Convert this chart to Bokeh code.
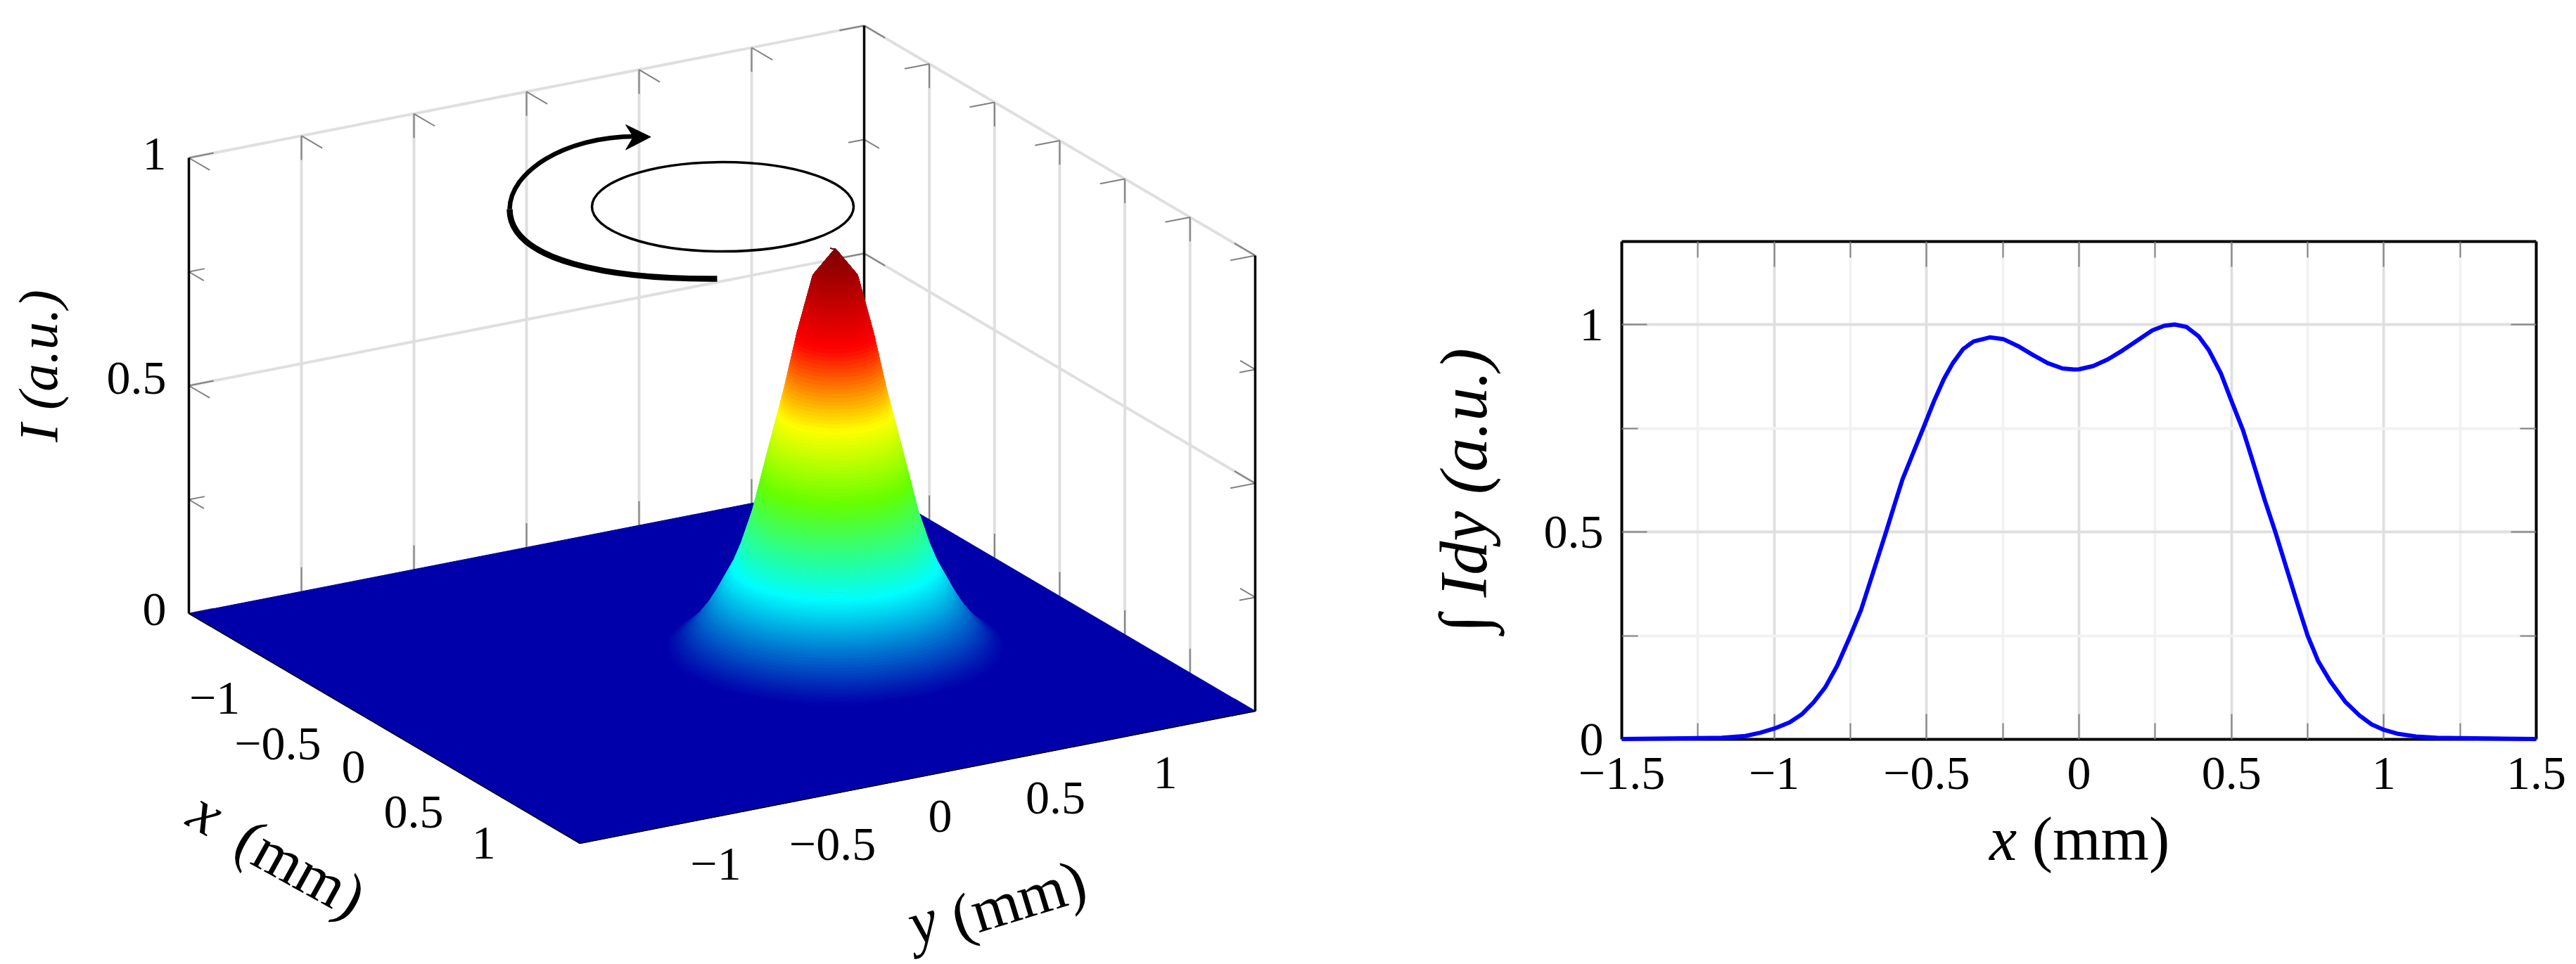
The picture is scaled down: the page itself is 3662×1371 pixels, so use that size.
import numpy as np
from bokeh.plotting import figure
from bokeh.layouts import row
from bokeh.embed import file_html
from bokeh.resources import INLINE
from bokeh.models import Range1d, LinearAxis, FixedTicker
from bokeh.core.properties import value

# ---------- data ----------
profile_x = [-1.5,-1.25,-1.172,-1.095,-1.046,-1.0,-0.949,-0.91,-0.871,-0.832,-0.793,-0.75,-0.715,-0.677,-0.633,-0.604,-0.579,-0.541,-0.511,-0.477,-0.443,-0.414,-0.38,-0.346,-0.293,-0.249,-0.2,-0.152,-0.103,-0.054,-0.016,0.0,0.047,0.095,0.144,0.192,0.241,0.28,0.314,0.353,0.392,0.426,0.465,0.5,0.538,0.571,0.61,0.644,0.678,0.717,0.75,0.785,0.824,0.873,0.921,0.96,1.0,1.048,1.106,1.174,1.25,1.35,1.5]
profile_I = [0.001,0.003,0.004,0.008,0.016,0.026,0.041,0.06,0.089,0.126,0.178,0.25,0.312,0.399,0.5,0.569,0.627,0.696,0.75,0.813,0.869,0.907,0.941,0.959,0.969,0.965,0.948,0.927,0.907,0.894,0.8915,0.892,0.9,0.916,0.938,0.962,0.986,0.997,1.0,0.994,0.972,0.938,0.883,0.816,0.745,0.668,0.575,0.5,0.419,0.326,0.25,0.188,0.14,0.091,0.057,0.036,0.023,0.013,0.007,0.004,0.003,0.002,0.001]
beam_r = [0.0,0.087,0.1475,0.197,0.257,0.32,0.363,0.395,0.465,0.5,0.55,0.6,0.65]
beam_z = [0.877,0.816,0.69,0.567,0.436,0.296,0.224,0.181,0.11,0.079,0.044,0.018,0.0]
beam_center = (0.076, 0.459)
apex_shift = (-0.0094, -0.0164)
xy_ticks = [-1.0,-0.5,0.0,0.5,1.0]
xy_labels = ["−1","−0.5","0","0.5","1"]
z_major = [0.0,0.5,1.0]
z_minor = [0.25,0.75]
z_labels = ["0","0.5","1"]
jet_pos = [0.0,0.206,0.42,0.59,0.78,1.0]
jet_rgb = [(0,0,170),(0,255,255),(100,255,0),(255,255,0),(255,0,0),(128,0,0)]

# ---------- style / geometry ----------
SERIF = value("Liberation Serif")
TICK_FS = "68px"
GRID = "#dfdfdf"
MINOR_GRID = "#f2f2f2"
TICK = "#808080"
O = np.array([268.0, 872.0])
UX = np.array([185.3, 109.0])
UY = np.array([320.0, -62.7])
UZ = np.array([0.0, -648.0])

def P(x, y, z):
    x, y, z = np.asarray(x, float), np.asarray(y, float), np.asarray(z, float)
    return (O[0] + (x+1.5)*UX[0] + (y+1.5)*UY[0] + z*UZ[0],
            O[1] + (x+1.5)*UX[1] + (y+1.5)*UY[1] + z*UZ[1])

def jet(t):
    return "#%02x%02x%02x" % tuple(int(round(np.interp(t, jet_pos, [c[i] for c in jet_rgb]))) for i in range(3))

# ---------- left: 3D ----------
L = figure(width=1900, height=1369, x_range=Range1d(0, 1900), y_range=Range1d(1369, 0),
           x_axis_location=None, y_axis_location=None, toolbar_location=None,
           output_backend="svg", min_border=0, outline_line_color=None, frame_align=False)
L.grid.visible = False

def seg(a, b, color, w, cap="butt"):
    a = np.array(a); b = np.array(b)
    x0, y0 = P(a[:,0], a[:,1], a[:,2]); x1, y1 = P(b[:,0], b[:,1], b[:,2])
    L.segment(x0, y0, x1, y1, line_color=color, line_width=w, line_cap=cap)

a, b = [], []
for t in xy_ticks:
    a.append((-1.5, t, 0)); b.append((-1.5, t, 1))
    a.append((t, 1.5, 0)); b.append((t, 1.5, 1))
for z in [0.5, 1.0]:
    a.append((-1.5, -1.5, z)); b.append((-1.5, 1.5, z))
    a.append((-1.5, 1.5, z)); b.append((1.5, 1.5, z))
seg(a, b, GRID, 4)

# ticks
dz, dx, dy = 0.053, 0.16, 0.11
mx, my = 0.115, 0.07
a, b = [], []
for t in xy_ticks:
    a += [(-1.5,t,1),(-1.5,t,1),(-1.5,t,0)]; b += [(-1.5,t,1-dz),(-1.5+dx,t,1),(-1.5,t,dz)]
    a += [(t,1.5,1),(t,1.5,1),(t,1.5,0)]; b += [(t,1.5,1-dz),(t,1.5-dy,1),(t,1.5,dz)]
for zs, ddx, ddy in [(z_major, dx, dy), (z_minor, mx, my)]:
    for z in zs:
        a += [(-1.5,-1.5,z),(-1.5,-1.5,z)]; b += [(-1.5+ddx,-1.5,z),(-1.5,-1.5+ddy,z)]
        a += [(-1.5,1.5,z),(-1.5,1.5,z)]; b += [(-1.5,1.5-ddy,z),(-1.5+ddx,1.5,z)]
        a += [(1.5,1.5,z),(1.5,1.5,z)]; b += [(1.5-ddx,1.5,z),(1.5,1.5-ddy,z)]
seg(a, b, TICK, 2)
# verticals
seg([(-1.5,-1.5,0),(-1.5,1.5,0),(1.5,1.5,0)], [(-1.5,-1.5,1),(-1.5,1.5,1),(1.5,1.5,1)], "black", 3.5)

# floor
fx, fy = P([-1.5,1.5,1.5,-1.5], [-1.5,-1.5,1.5,1.5], [0,0,0,0])
L.patch(fx, fy, fill_color=jet(0), line_color=jet(0), line_width=1)
seg([(-1.5,-1.5,0),(1.5,-1.5,0)], [(1.5,-1.5,0),(1.5,1.5,0)], "black", 1.5)

# surface of revolution, painter's order
rr = np.concatenate([np.linspace(0, 0.5, 151), np.linspace(0.5, 0.65, 21)[1:]])
zz = np.interp(rr, beam_r, beam_z)
ang = np.linspace(0, 2*np.pi, 61)
zmax = max(beam_z)
qs = []
for i in range(len(rr)-1):
    for j in range(len(ang)-1):
        ri, ro = rr[i], rr[i+1]
        a0, a1 = ang[j], ang[j+1]
        sh = apex_shift if i == 0 else (0, 0)
        X = [beam_center[0]+ri*np.cos(a0)+sh[0], beam_center[0]+ro*np.cos(a0),
             beam_center[0]+ro*np.cos(a1), beam_center[0]+ri*np.cos(a1)+sh[0]]
        Y = [beam_center[1]+ri*np.sin(a0)+sh[1], beam_center[1]+ro*np.sin(a0),
             beam_center[1]+ro*np.sin(a1), beam_center[1]+ri*np.sin(a1)+sh[1]]
        Z = [zz[i], zz[i+1], zz[i+1], zz[i]]
        sx, sy = P(X, Y, Z)
        _, fyy = P(np.mean(X), np.mean(Y), 0)
        qs.append((float(fyy), [round(float(v), 2) for v in sx], [round(float(v), 2) for v in sy],
                   jet((zz[i]+zz[i+1])/2/zmax)))
qs.sort(key=lambda q: q[0])
L.patches([q[1] for q in qs], [q[2] for q in qs], fill_color=[q[3] for q in qs],
          line_color=[q[3] for q in qs], line_width=1.0)

# ring and arrow
L.ellipse([1027], [293.6], width=[372], height=[127], fill_color=None, line_color="black", line_width=3.5)
L.bezier(x0=[1019], y0=[396], x1=[724], y1=[297], cx0=[870], cy0=[397], cx1=[724], cy1=[372],
         line_color="black", line_width=8.5)
L.bezier(x0=[724], y0=[297], x1=[904], y1=[193.5], cx0=[724], cy0=[245], cx1=[800], cy1=[193.5],
         line_color="black", line_width=6.5)
L.patch([924.5, 889, 900, 889], [194.2, 177, 194.2, 212.5], fill_color="black", line_color="black", line_width=1)

def txt(x, y, s, size=TICK_FS, angle=0.0, style="normal", align="center"):
    L.text([x], [y], text=[s], text_font=SERIF, text_font_size=size, text_font_style=style,
           text_align=align, text_baseline="middle", angle=angle, text_color="black")

for s, yy in zip(z_labels, [866, 537, 218]):
    txt(236, yy, s, align="right")
for s, t, n in zip(xy_labels, xy_ticks, [(-56,66),(-59,76),(-44,55),(-51,64),(-44,54)]):
    px, py = P(t, -1.5, 0)
    txt(float(px)+n[0], float(py)+n[1], s)
for s, pos in zip(xy_labels, [(1017,1228),(1183,1200),(1336,1160),(1500,1134),(1656,1098)]):
    txt(pos[0], pos[1], s)
txt(54, 520, "I (a.u.)", size="79px", angle=np.pi/2, style="italic")
txt(293, 1155, "x", size="88px", angle=-np.radians(29), style="italic")
txt(427, 1234, "(mm)", size="88px", angle=-np.radians(29))
txt(1311, 1310, "y", size="88px", angle=np.radians(17), style="italic")
txt(1447, 1278, "(mm)", size="88px", angle=np.radians(17))

# ---------- right: 2D ----------
R = figure(width=1760, height=1369, x_range=Range1d(-1.5, 1.5), y_range=Range1d(0, 1.2),
           toolbar_location=None, output_backend="svg", outline_line_color=None, frame_align=False,
           min_border_left=405, min_border_right=55, min_border_top=343, min_border_bottom=318)
xt = FixedTicker(ticks=[-1.5,-1,-0.5,0,0.5,1,1.5], minor_ticks=[-1.25,-0.75,-0.25,0.25,0.75,1.25])
yt = FixedTicker(ticks=[0,0.5,1], minor_ticks=[0.25,0.75])
R.xaxis.ticker = xt
R.yaxis.ticker = yt
R.xaxis.major_label_overrides = {-1.5:"−1.5",-1:"−1",-0.5:"−0.5",0:"0",0.5:"0.5",1:"1",1.5:"1.5"}
R.yaxis.major_label_overrides = {0:"0",0.5:"0.5",1:"1"}
R.add_layout(LinearAxis(ticker=xt, major_label_overrides={v:"" for v in xt.ticks}), "above")
R.add_layout(LinearAxis(ticker=yt, major_label_overrides={v:"" for v in yt.ticks}), "right")
for ax in R.axis:
    ax.axis_line_color = "black"; ax.axis_line_width = 4
    ax.major_tick_line_color = TICK; ax.minor_tick_line_color = TICK
    ax.major_tick_line_width = 2; ax.minor_tick_line_width = 2
    ax.major_tick_in = 36; ax.major_tick_out = 0
    ax.minor_tick_in = 23; ax.minor_tick_out = 0
    ax.major_label_text_font = "Liberation Serif"
    ax.major_label_text_font_size = TICK_FS
    ax.major_label_text_color = "black"
    ax.major_label_standoff = 26
R.yaxis[0].major_label_orientation = "horizontal"
R.xgrid.ticker = xt; R.ygrid.ticker = yt
for g in R.grid:
    g.grid_line_color = GRID; g.grid_line_width = 3.8
    g.minor_grid_line_color = MINOR_GRID; g.minor_grid_line_width = 3.8
R.yaxis[0].axis_label = "∫ Idy (a.u.)"
R.yaxis[0].axis_label_text_font = "Liberation Serif"
R.yaxis[0].axis_label_text_font_size = "96px"
R.yaxis[0].axis_label_text_font_style = "italic"
R.yaxis[0].axis_label_text_color = "black"
R.yaxis[0].axis_label_standoff = 58
R.line(profile_x, profile_I, line_color="#0000ff", line_width=6, line_join="round", level="overlay")

# "(mm)" and the italic "x" of the x axis title: two text-only axes below the main one
def xd(px): return -1.5 + (px-2305)/1300*3
def title_axis(px, s, style, standoff):
    v = round(xd(px), 4)
    ax = LinearAxis(ticker=FixedTicker(ticks=[v]), major_label_overrides={v: s},
                    axis_line_color=None, major_tick_line_color=None, minor_tick_line_color=None,
                    major_tick_in=0, major_tick_out=0, minor_tick_in=0, minor_tick_out=0,
                    major_label_text_font="Liberation Serif", major_label_text_font_size="88px",
                    major_label_text_font_style=style, major_label_text_color="black",
                    major_label_standoff=standoff)
    R.add_layout(ax, "below")
title_axis(2986, "(mm)", "normal", 20)
title_axis(2847, "x", "italic", -100)

open("out.html", "w").write(file_html(row(L, R, spacing=0), INLINE))
